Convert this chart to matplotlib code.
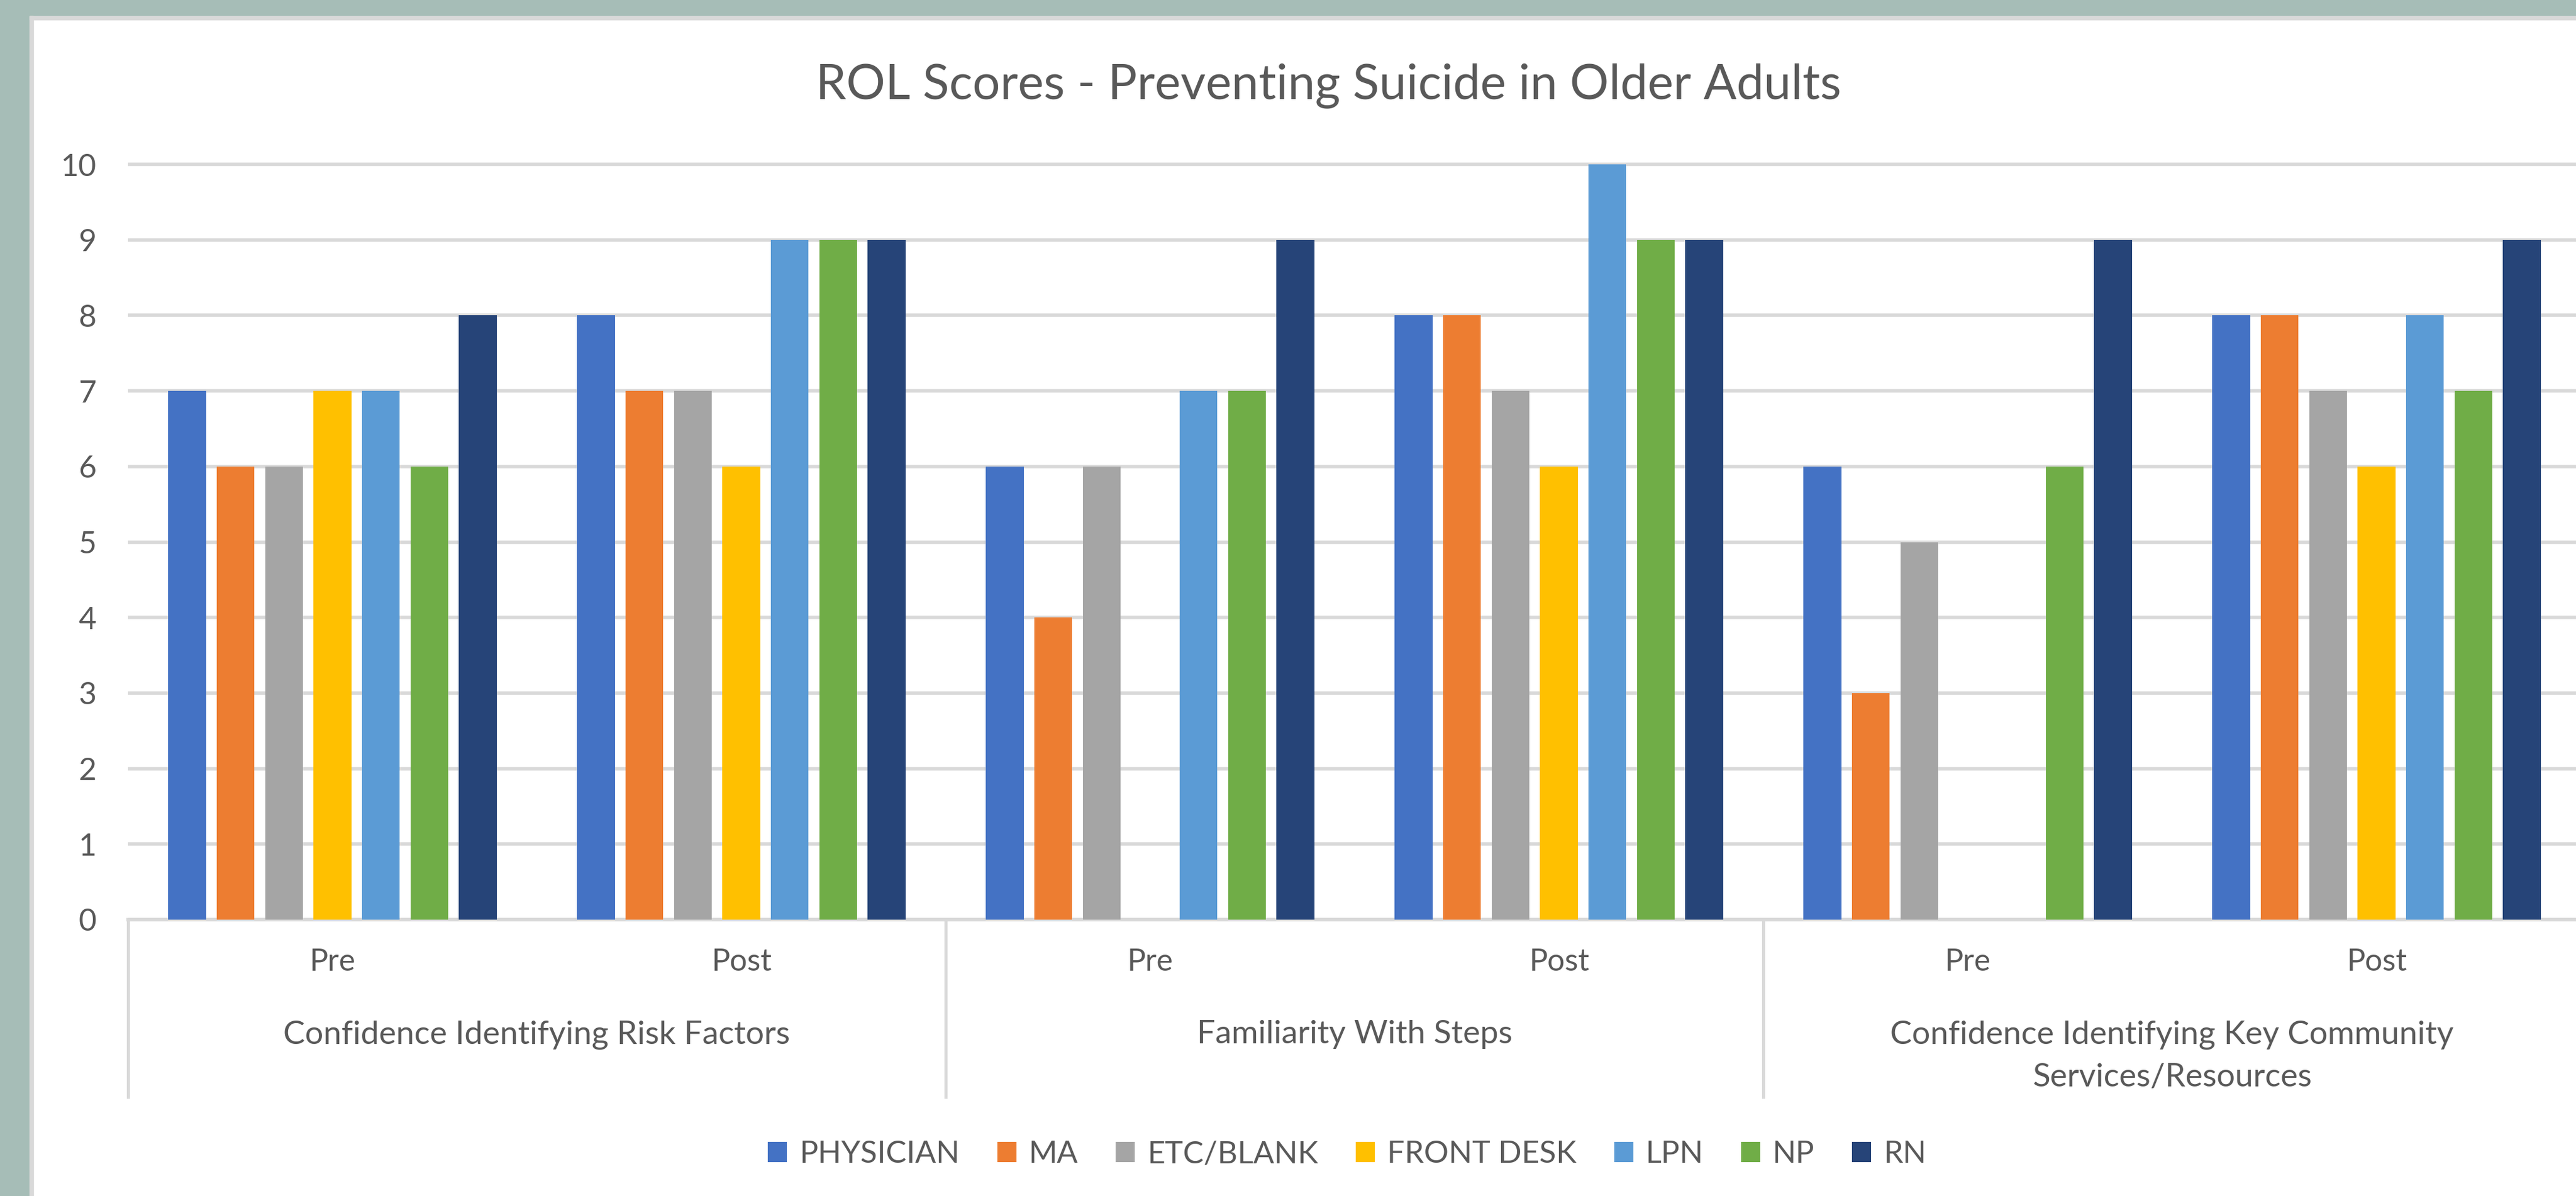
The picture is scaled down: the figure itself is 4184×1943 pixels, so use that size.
import numpy as np
import matplotlib
matplotlib.use("Agg")
from matplotlib import pyplot as plt
from matplotlib import transforms
from matplotlib.patches import Patch, Rectangle

plt.rcParams["font.family"] = ["Lato", "DejaVu Sans"]

TITLE = "ROL Scores - Preventing Suicide in Older Adults"
QUESTIONS = [
    "Confidence Identifying Risk Factors",
    "Familiarity With Steps",
    "Confidence Identifying Key Community\nServices/Resources",
]
PHASES = ["Pre", "Post"]
ROLES = ["PHYSICIAN", "MA", "ETC/BLANK", "FRONT DESK", "LPN", "NP", "RN"]
COLORS = ["#4472C4", "#ED7D31", "#A5A5A5", "#FFC000", "#5B9BD5", "#70AD47", "#264478"]

# scores per role, Pre/Post for each question in turn (0 = no bar)
physician = [7, 8, 6, 8, 6, 8]
ma = [6, 7, 4, 8, 3, 8]
etc_blank = [6, 7, 6, 7, 5, 7]
front_desk = [7, 6, 0, 6, 0, 6]
lpn = [7, 9, 7, 10, 0, 8]
nurse_prac = [6, 9, 7, 9, 6, 7]
rn = [8, 9, 9, 9, 9, 9]
series = [physician, ma, etc_blank, front_desk, lpn, nurse_prac, rn]

TEXT = "#595959"
LINE = "#D9D9D9"
W, H = 4184, 1943


def fy(y):
    # pixel row (from top) -> figure fraction
    return 1 - y / H


fig = plt.figure(figsize=(W / 100, H / 100), dpi=100)

# screenshot frame: green-grey band plus light border of the chart box
fig.patches.append(Rectangle((0, fy(26)), 1, 26 / H, transform=fig.transFigure,
                             color="#A6BDB7", zorder=0))
fig.patches.append(Rectangle((0, 0), 48 / W, 1, transform=fig.transFigure,
                             color="#A6BDB7", zorder=0))
fig.patches.append(Rectangle((48 / W, fy(32)), 1, 6 / H, transform=fig.transFigure,
                             color=LINE, zorder=0))
fig.patches.append(Rectangle((48 / W, 0), 6 / W, fy(26), transform=fig.transFigure,
                             color=LINE, zorder=0))

unit = (1494 - 267) / 10
ymax = 10.2
ax = fig.add_axes([208 / W, fy(1494), (4192 - 208) / W, ymax * unit / H])
ax.set_facecolor("none")

x = np.arange(len(PHASES) * len(QUESTIONS))
pitch, width = 0.1185, 0.0924
for i, (vals, color) in enumerate(zip(series, COLORS)):
    ax.bar(x + (i - 3) * pitch, vals, width, color=color, zorder=3)

ax.set_xlim(-0.5, len(x) - 0.5)
ax.set_ylim(0, ymax)
ax.set_yticks(range(0, 11))
ax.yaxis.grid(True, color=LINE, lw=4.0, zorder=0)
ax.set_axisbelow(True)
for side in ["top", "right", "left"]:
    ax.spines[side].set_visible(False)
ax.spines["bottom"].set_color(LINE)
ax.spines["bottom"].set_linewidth(4.0)
ax.tick_params(axis="y", length=0, pad=37, labelsize=36, labelcolor=TEXT)
ax.set_xticks([])

# two-level category axis drawn by hand
trans = transforms.blended_transform_factory(ax.transData, fig.transFigure)
for xi, label in zip(x, PHASES * len(QUESTIONS)):
    ax.text(xi, fy(1563), label, transform=trans, ha="center", va="center",
            fontsize=36, color=TEXT)
for q, label in enumerate(QUESTIONS):
    xc = q * len(PHASES) + 0.5
    for k, line in enumerate(label.split("\n")):
        ax.text(xc, fy(1681 + k * 69), line, transform=trans, ha="center",
                va="center", fontsize=38, color=TEXT)
for b in np.arange(len(QUESTIONS) + 1) * len(PHASES) - 0.5:
    ax.plot([b, b], [fy(1494), fy(1782)], transform=trans, color=LINE,
            lw=3.6, clip_on=False)

fig.text(2158 / W, fy(139), TITLE, ha="center", va="center", fontsize=57, color=TEXT)

handles = [Patch(facecolor=c, label=r) for r, c in zip(ROLES, COLORS)]
fig.legend(handles=handles, loc="center", bbox_to_anchor=(2188 / W, fy(1875)),
           ncol=len(ROLES), frameon=False, fontsize=36, labelcolor=TEXT,
           handlelength=0.62, handleheight=0.62, handletextpad=0.4,
           columnspacing=1.22, borderpad=0)

fig.savefig("out.png", dpi=100)
